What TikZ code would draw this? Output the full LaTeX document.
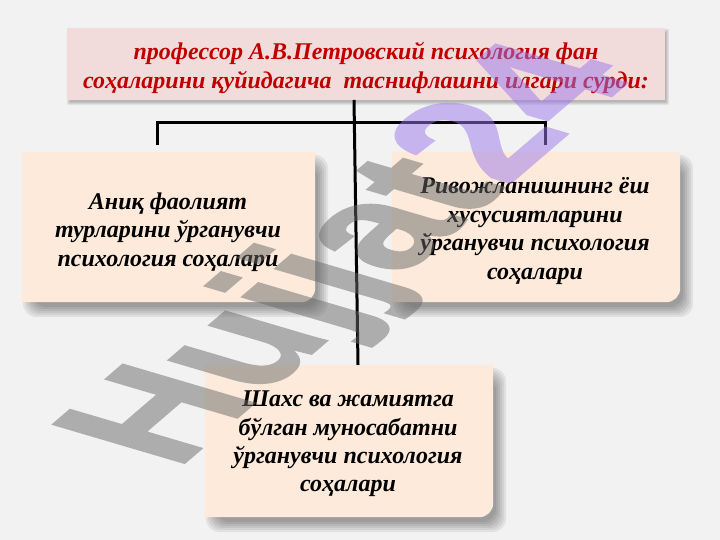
\documentclass[tikz,border=0pt]{standalone}
\usepackage{fontspec}
\setmainfont{Liberation Serif}
\newfontfamily\wmfont[FakeStretch=1.2,FakeBold=1.5]{Liberation Sans Bold}
\definecolor{bgcol}{HTML}{F2F2F2}
\definecolor{titlefill}{HTML}{F2DCDB}
\definecolor{titletext}{HTML}{C00000}
\definecolor{boxfill}{HTML}{FDEADA}
\definecolor{wmgray}{RGB}{105,105,105}
\definecolor{wmpurple}{RGB}{155,120,235}
\newcommand\softshadow[5]{% node, dx, dy, corner radius, list of spreads
  \foreach \e in {#5}{
    \fill[black,opacity=0.065,rounded corners=#4]
      ([shift={(#2-\e,#3-\e)}]#1.south west) rectangle ([shift={(#2+\e,#3+\e)}]#1.north east);
  }}
\newcommand\roundbox[1]{%
  \fill[boxfill] (#1.north west) -- (#1.north east) -- ([yshift=14bp]#1.south east)
    arc[start angle=0,end angle=-90,radius=14bp] -- (#1.south west) -- cycle;}
\begin{document}
\begin{tikzpicture}[x=1bp,y=1bp,
  boxnode/.style={rectangle,inner sep=0pt,minimum width=#1},
  boxtext/.style={align=center,text=black,inner sep=0pt,
    font=\fontsize{24bp}{28.4bp}\selectfont\bfseries\itshape},
  titletxt/.style={align=center,text=titletext,inner sep=0pt,
    font=\fontsize{24bp}{28.5bp}\selectfont\bfseries\itshape},
  connector/.style={draw=black,line width=3bp}]
\useasboundingbox (0,0) rectangle (720,540);
\fill[bgcol] (0,0) rectangle (720,540);

% frames
\node[boxnode=598bp,minimum height=72bp] (t) at (366,476) {};
\node[boxnode=293bp,minimum height=150bp] (a) at (168.5,313) {};
\node[boxnode=288bp,minimum height=150bp] (b) at (536,313) {};
\node[boxnode=288bp,minimum height=152bp] (c) at (349,99) {};

% shadows
\softshadow{t}{2}{-3}{2bp}{-1,0,1,2}
\softshadow{a}{7}{-9}{14bp}{-4,-2,0,2,4,6}
\softshadow{b}{7}{-9}{14bp}{-4,-2,0,2,4,6}
\softshadow{c}{7}{-9}{14bp}{-4,-2,0,2,4,6}

% fills
\fill[titlefill] (t.south west) rectangle (t.north east);
\roundbox{a}
\roundbox{b}
\roundbox{c}

% texts
\node[titletxt] (tt) at (366,472) {профессор А.В.Петровский психология фан\\соҳаларини қуйидагича~ таснифлашни илгари сурди:};
\node[boxtext] (at) at (168,308) {Аниқ фаолият\\турларини ўрганувчи\\психология соҳалари};
\node[boxtext] (bt) at (535,309) {Ривожланишнинг ёш\\хусусиятларини\\ўрганувчи психология\\соҳалари};
\node[boxtext] (ct) at (348,96) {Шахс ва жамиятга\\бўлган муносабатни\\ўрганувчи психология\\соҳалари};

% connectors
\coordinate (ja) at (157,395);
\coordinate (jb) at (545,395);
\coordinate (tv) at (354,440);
\coordinate (cv) at (358,175);
\draw[connector] (ja) -- ++(0,22) -| (jb);
\draw[connector] (tv) -- (cv);

% watermark
\begin{scope}[transparency group,opacity=0.5]
\begin{scope}[shift={(176,70)},cm={0.99,0.85,-1.9,0.56,(0,0)}]
\node[transform shape,anchor=base west,inner sep=0pt,
  font=\wmfont\fontsize{100bp}{100bp}\selectfont] (wm) at (0,0)
  {\textcolor{wmgray}{Hujjat}\textcolor{wmpurple}{24}};
\end{scope}
\end{scope}
\end{tikzpicture}
\end{document}
